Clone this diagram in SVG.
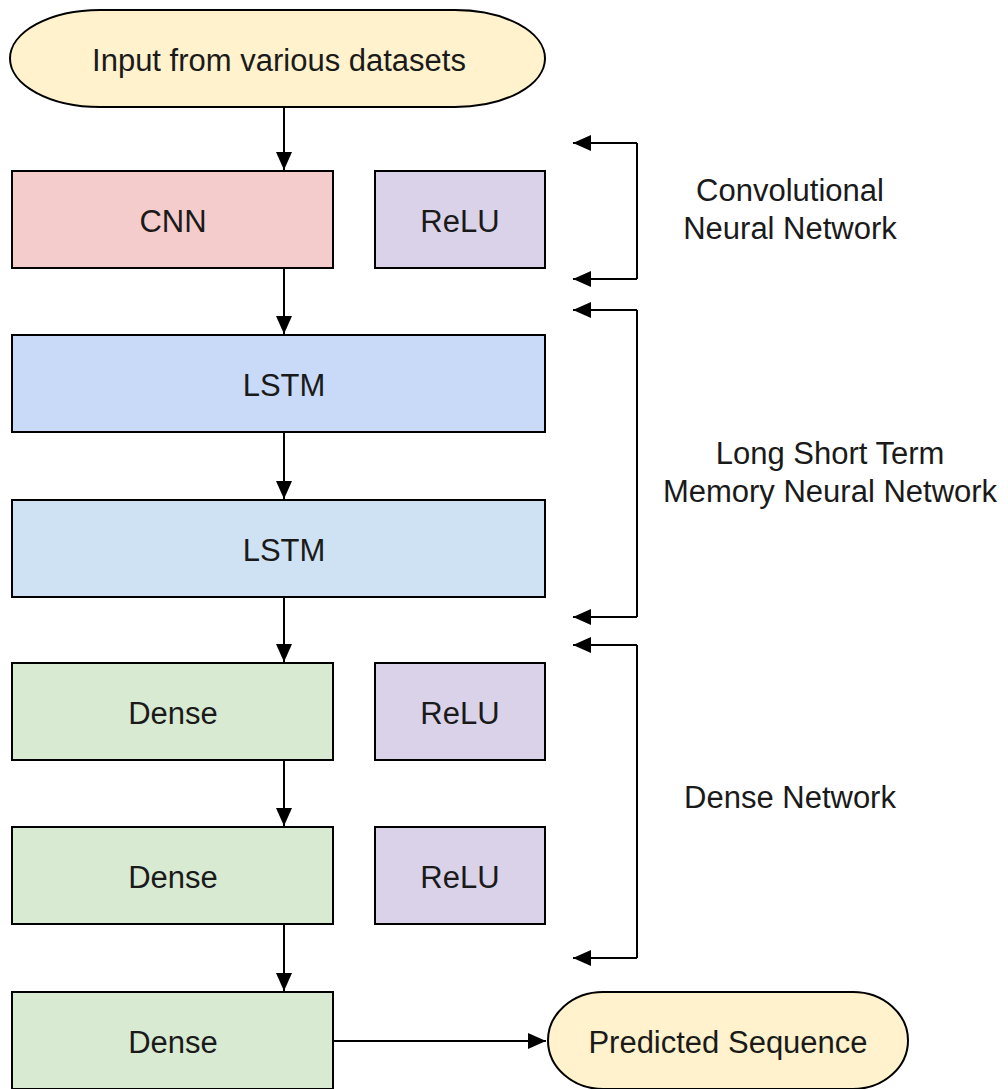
<svg xmlns="http://www.w3.org/2000/svg" width="1008" height="1089" viewBox="0 0 1008 1089">
<defs>
<marker id="ah" viewBox="0 0 18 16" refX="18" refY="8" markerWidth="18" markerHeight="16" markerUnits="userSpaceOnUse" orient="auto">
<path d="M0,0 L18,8 L0,16 z" fill="#000"/>
</marker>
<style>
.box{stroke:#000;stroke-width:2}
.t{font-family:"Liberation Sans",Arial,sans-serif;font-size:31px;fill:#1a1a1a;text-anchor:middle}
.c{fill:none;stroke:#000;stroke-width:2}
</style>
</defs>
<rect width="1008" height="1089" fill="#fff"/>
<g id="input"><rect class="box" x="10" y="10" width="535" height="97" rx="90" ry="48.5" fill="#fff2cc"/><text class="t" x="279" y="71">Input from various datasets</text></g>
<g id="cnn"><rect class="box" x="12" y="171" width="321" height="97" fill="#f4cccc"/><text class="t" x="173" y="232">CNN</text></g>
<g id="relu1"><rect class="box" x="375" y="171" width="170" height="97" fill="#d9d2e9"/><text class="t" x="460" y="232">ReLU</text></g>
<g id="lstm1"><rect class="box" x="12" y="335" width="533" height="97" fill="#c9daf8"/><text class="t" x="284" y="396">LSTM</text></g>
<g id="lstm2"><rect class="box" x="12" y="500" width="533" height="97" fill="#cfe2f3"/><text class="t" x="284" y="561">LSTM</text></g>
<g id="dense1"><rect class="box" x="12" y="663" width="321" height="97" fill="#d9ead3"/><text class="t" x="173" y="724">Dense</text></g>
<g id="relu2"><rect class="box" x="375" y="663" width="170" height="97" fill="#d9d2e9"/><text class="t" x="460" y="724">ReLU</text></g>
<g id="dense2"><rect class="box" x="12" y="827" width="321" height="97" fill="#d9ead3"/><text class="t" x="173" y="888">Dense</text></g>
<g id="relu3"><rect class="box" x="375" y="827" width="170" height="97" fill="#d9d2e9"/><text class="t" x="460" y="888">ReLU</text></g>
<g id="dense3"><rect class="box" x="12" y="992" width="321" height="97" fill="#d9ead3"/><text class="t" x="173" y="1053">Dense</text></g>
<g id="output"><rect class="box" x="548" y="992" width="360" height="97" rx="55" ry="48.5" fill="#fff2cc"/><text class="t" x="728" y="1053">Predicted Sequence</text></g>
<g id="labels">
<text class="t" x="790" y="201">Convolutional</text>
<text class="t" x="790" y="239">Neural Network</text>
<text class="t" x="830" y="464">Long Short Term</text>
<text class="t" x="830" y="502">Memory Neural Network</text>
<text class="t" x="790" y="808">Dense Network</text>
</g>
<g id="connectors">
<path class="c" d="M284,108 V170" marker-end="url(#ah)"/>
<path class="c" d="M284,269 V334" marker-end="url(#ah)"/>
<path class="c" d="M284,433 V499" marker-end="url(#ah)"/>
<path class="c" d="M284,598 V662" marker-end="url(#ah)"/>
<path class="c" d="M284,761 V826" marker-end="url(#ah)"/>
<path class="c" d="M284,925 V991" marker-end="url(#ah)"/>
<path class="c" d="M334,1041 H546" marker-end="url(#ah)"/>
<path class="c" d="M637,143 V279"/>
<path class="c" d="M637,143 H573" marker-end="url(#ah)"/>
<path class="c" d="M637,279 H573" marker-end="url(#ah)"/>
<path class="c" d="M637,310 V617"/>
<path class="c" d="M637,310 H573" marker-end="url(#ah)"/>
<path class="c" d="M637,617 H573" marker-end="url(#ah)"/>
<path class="c" d="M637,645 V958"/>
<path class="c" d="M637,645 H573" marker-end="url(#ah)"/>
<path class="c" d="M637,958 H573" marker-end="url(#ah)"/>
</g>
</svg>
